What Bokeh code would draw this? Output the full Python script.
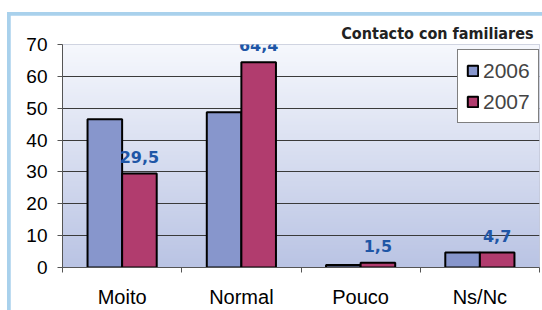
import numpy as np
from bokeh.plotting import figure
from bokeh.layouts import column
from bokeh.core.properties import value
from bokeh.models import (ColumnDataSource, LabelSet, FixedTicker, Legend, LegendItem,
                          Range1d, CustomJSTickFormatter)
from bokeh.embed import file_html
from bokeh.resources import INLINE

# ---- data ----
categories = ["Moito", "Normal", "Pouco", "Ns/Nc"]
years = ["2006", "2007"]
values_2006 = [46.5, 48.7, 0.8, 4.7]
values_2007 = [29.5, 64.4, 1.5, 4.7]
labels_2007 = ["29,5", "64,4", "1,5", "4,7"]
y_ticks = [0, 10, 20, 30, 40, 50, 60, 70]
title_text = "Contacto con familiares"

color_2006 = "#8796cc"
color_2007 = "#b13c6e"

idx = np.arange(len(categories))
centers = idx + 0.5
bar_w = 0.29

src = ColumnDataSource(dict(
    x06=centers - bar_w / 2, x07=centers + bar_w / 2,
    v06=values_2006, v07=values_2007, lab=labels_2007,
))

W, H = 532, 295
BL, BR, BT, BB = 52, 3, 29, 42
p = figure(width=W, height=H, x_range=Range1d(0, len(categories)),
           y_range=Range1d(0, 70), output_backend="svg", toolbar_location=None,
           min_border_left=BL, min_border_right=BR, min_border_top=BT, min_border_bottom=BB)

# gradient background
n = 200
t = np.linspace(0, 1, n)[:, None]  # bottom -> top
top = np.array([246, 248, 253])
bot = np.array([186, 196, 228])
cols = (bot + (top - bot) * t).astype(np.uint32)
img = (np.uint32(255) << 24) | (cols[:, 2] << 16) | (cols[:, 1] << 8) | cols[:, 0]
img = img.reshape(n, 1).astype(np.uint32)
bg = p.image_rgba(image=[img], x=0, y=0, dw=len(categories), dh=70)
bg.level = "image"

p.background_fill_color = "#ffffff"
p.border_fill_color = "#ffffff"
p.outline_line_color = "#c4c8d8"

r06 = p.vbar(x="x06", top="v06", width=bar_w, source=src, fill_color=color_2006,
             line_color="black", line_width=2)
r07 = p.vbar(x="x07", top="v07", width=bar_w, source=src, fill_color=color_2007,
             line_color="black", line_width=2)

labels = LabelSet(x="x07", y="v07", text="lab", source=src, text_align="center",
                  text_baseline="alphabetic", y_offset=11, text_color="#1f56a6",
                  text_font=value("DejaVu Sans"), text_font_style="bold",
                  text_font_size="16px")
p.add_layout(labels)

# grid
p.xgrid.grid_line_color = None
p.ygrid.ticker = FixedTicker(ticks=y_ticks)
p.ygrid.grid_line_color = "#3a3a3a"
p.ygrid.grid_line_width = 1

# y axis
p.yaxis.ticker = FixedTicker(ticks=y_ticks)
p.yaxis.major_label_text_font = "Liberation Sans"
p.yaxis.major_label_text_font_size = "19px"
p.yaxis.major_label_text_color = "black"
p.yaxis.major_tick_in = 0
p.yaxis.major_tick_out = 5
p.yaxis.minor_tick_line_color = None
p.yaxis.axis_line_color = "#555555"
p.yaxis.major_tick_line_color = "#555555"
p.yaxis.major_label_standoff = 10

# x axis
p.xaxis.ticker = FixedTicker(ticks=list(centers), minor_ticks=list(range(len(categories) + 1)))
p.xaxis.formatter = CustomJSTickFormatter(args=dict(cats=categories),
                                          code="return cats[Math.floor(tick)];")
p.xaxis.major_tick_line_color = None
p.xaxis.major_tick_in = 0
p.xaxis.major_tick_out = 0
p.xaxis.minor_tick_in = 0
p.xaxis.minor_tick_out = 5
p.xaxis.minor_tick_line_color = "#555555"
p.xaxis.axis_line_color = "#555555"
p.xaxis.major_label_text_font = "Liberation Sans"
p.xaxis.major_label_text_font_size = "20px"
p.xaxis.major_label_text_color = "black"
p.xaxis.major_label_standoff = 13

# title
p.title.text = title_text
p.title.align = "right"
p.title.text_font = "DejaVu Sans Condensed"
p.title.text_font_style = "bold"
p.title.text_font_size = "16px"
p.title.text_color = "#222222"
p.title.standoff = 4
p.title.offset = 6

# legend
frame_w = W - BL - BR
frame_h = H - BT - BB
leg_w, leg_h = 80, 72
legend = Legend(items=[LegendItem(label=years[0], renderers=[r06]),
                       LegendItem(label=years[1], renderers=[r07])],
                location=(frame_w - leg_w - 2, frame_h - leg_h - 8))
legend.border_line_color = "black"
legend.border_line_width = 1
legend.background_fill_color = "white"
legend.background_fill_alpha = 1
legend.label_text_font = "Liberation Sans"
legend.label_text_font_size = "21px"
legend.glyph_width = 13
legend.glyph_height = 13
legend.label_standoff = 4
legend.spacing = 6
legend.padding = 8
legend.margin = 0
legend.label_height = 25
p.add_layout(legend)

layout = column(p, styles={"background-color": "#a9d1ec",
                           "padding-left": "3px", "padding-top": "3px",
                           "margin-left": "7px", "margin-top": "12px"})

open("out.html", "w").write(file_html(layout, INLINE))
